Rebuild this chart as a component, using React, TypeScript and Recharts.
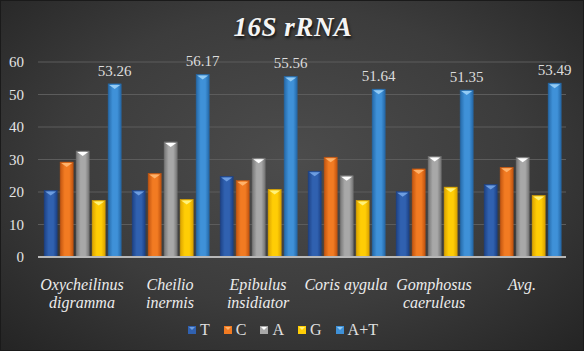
import { Bar, BarChart, CartesianGrid, LabelList, Legend, XAxis, YAxis } from "recharts";

const categories = [
  "Oxycheilinus digramma",
  "Cheilio inermis",
  "Epibulus insidiator",
  "Coris aygula",
  "Gomphosus caeruleus",
  "Avg.",
];
const categoryLines: Record<string, string[]> = {
  "Oxycheilinus digramma": ["Oxycheilinus", "digramma"],
  "Cheilio inermis": ["Cheilio", "inermis"],
  "Epibulus insidiator": ["Epibulus", "insidiator"],
  "Coris aygula": ["Coris aygula"],
  "Gomphosus caeruleus": ["Gomphosus", "caeruleus"],
  "Avg.": ["Avg."],
};
const tValues = [20.5, 20.5, 24.8, 26.4, 20.1, 22.3];
const cValues = [29.2, 25.7, 23.5, 30.7, 27.1, 27.6];
const aValues = [32.6, 35.4, 30.4, 25.0, 30.9, 30.7];
const gValues = [17.4, 17.7, 20.8, 17.4, 21.5, 18.9];
const atValues = [53.26, 56.17, 55.56, 51.64, 51.35, 53.49];
const yTicks = [0, 10, 20, 30, 40, 50, 60];

const data = categories.map((name, i) => ({
  name,
  T: tValues[i],
  C: cValues[i],
  A: aValues[i],
  G: gValues[i],
  AT: atValues[i],
}));

const SERIES = [
  { key: "T", label: "T", base: "#3061b0", dark: "#1d4286", cap: "#6d9de0" },
  { key: "C", label: "C", base: "#f27b22", dark: "#c25510", cap: "#ffb26a" },
  { key: "A", label: "A", base: "#a8a8a8", dark: "#767676", cap: "#ffffff" },
  { key: "G", label: "G", base: "#ffcd05", dark: "#dba300", cap: "#fff27a" },
  { key: "AT", label: "A+T", base: "#3f91d8", dark: "#2569a8", cap: "#92cbf5" },
];

const serif = "'Times New Roman', Tinos, 'Liberation Serif', 'DejaVu Serif', Times, serif";

function makeShape(key: string, cap: string, dark: string) {
  return (props: any) => {
    const { x, y, width, height } = props;
    if (!height || height <= 0) return null;
    const capH = Math.min(5, height);
    return (
      <g>
        <rect x={x} y={y} width={width} height={height} fill={`url(#grad-${key})`} stroke={dark} strokeWidth={0.6} />
        <polygon
          points={`${x + 1},${y + 1} ${x + width - 1},${y + 1} ${x + width / 2},${y + capH}`}
          fill={cap}
        />
      </g>
    );
  };
}

function CategoryTick({ x, y, payload }: any) {
  const lines = categoryLines[payload.value] ?? [payload.value];
  return (
    <g transform={`translate(${x},${y})`}>
      {lines.map((line, i) => (
        <text
          key={i}
          x={0}
          y={25 + i * 18}
          textAnchor="middle"
          fill="#ececec"
          style={{ fontFamily: serif, fontStyle: "italic", fontSize: 16 }}
        >
          {line}
        </text>
      ))}
    </g>
  );
}

function LegendContent() {
  return (
    <div style={{ display: "flex", justifyContent: "center", gap: 14, fontFamily: serif, fontSize: 16, color: "#e0e0e0", paddingTop: 4 }}>
      {SERIES.map((s) => (
        <span key={s.key} style={{ display: "flex", alignItems: "center", gap: 4 }}>
          <svg width={8} height={8}>
            <rect x={0} y={0} width={8} height={8} fill={s.base} />
            <polygon points="1,1 7,1 4,4" fill={s.cap} />
          </svg>
          {s.label}
        </span>
      ))}
    </div>
  );
}

export default function App() {
  return (
    <div
      style={{
        position: "absolute",
        left: 0,
        top: 0,
        width: 584,
        height: 351,
        boxSizing: "border-box",
        border: "1px solid #1a1a1a",
        background: "radial-gradient(ellipse at 50% 45%, #4c4c4c 0%, #3c3c3c 55%, #242424 100%)",
      }}
    >
      <div
        style={{
          position: "absolute",
          left: 0,
          top: 11,
          width: 584,
          textAlign: "center",
          fontFamily: serif,
          fontStyle: "italic",
          fontWeight: "bold",
          fontSize: 27,
          color: "#f4f4f4",
          textShadow: "1px 2px 3px rgba(0,0,0,0.8)",
          letterSpacing: 0.5,
        }}
      >
        16S rRNA
      </div>
      <div style={{ position: "absolute", left: -1, top: -1 }}>
        <BarChart
          width={584}
          height={351}
          data={data}
          margin={{ top: 62, right: 18, left: 0, bottom: 10 }}
          barCategoryGap="7%"
          barGap={3}
        >
          <defs>
            {SERIES.map((s) => (
              <linearGradient key={s.key} id={`grad-${s.key}`} x1="0" y1="0" x2="1" y2="0">
                <stop offset="0%" stopColor={s.dark} />
                <stop offset="35%" stopColor={s.base} />
                <stop offset="70%" stopColor={s.base} />
                <stop offset="100%" stopColor={s.dark} />
              </linearGradient>
            ))}
          </defs>
          <CartesianGrid stroke="#5c5c5c" vertical={false} />
          <XAxis
            dataKey="name"
            tick={<CategoryTick />}
            tickLine={false}
            axisLine={{ stroke: "#b8b8b8", strokeWidth: 2 }}
            height={60}
            interval={0}
          />
          <YAxis
            domain={[0, 60]}
            ticks={yTicks}
            tickLine={false}
            axisLine={false}
            width={38}
            tickSize={0}
            tickMargin={14}
            tick={{ fill: "#e4e4e4", style: { fontFamily: serif }, fontSize: 15 }}
          />
          <Legend verticalAlign="bottom" height={24} content={<LegendContent />} />
          {SERIES.map((s) => (
            <Bar
              key={s.key}
              dataKey={s.key}
              name={s.label}
              fill={s.base}
              isAnimationActive={false}
              shape={makeShape(s.key, s.cap, s.dark)}
            >
              {s.key === "AT" && (
                <LabelList
                  dataKey="AT"
                  position="top"
                  offset={8}
                  fill="#dcdcdc"
                  style={{ fontFamily: serif }}
                  fontSize={15}
                  formatter={(v: any) => Number(v).toFixed(2)}
                />
              )}
            </Bar>
          ))}
        </BarChart>
      </div>
    </div>
  );
}
